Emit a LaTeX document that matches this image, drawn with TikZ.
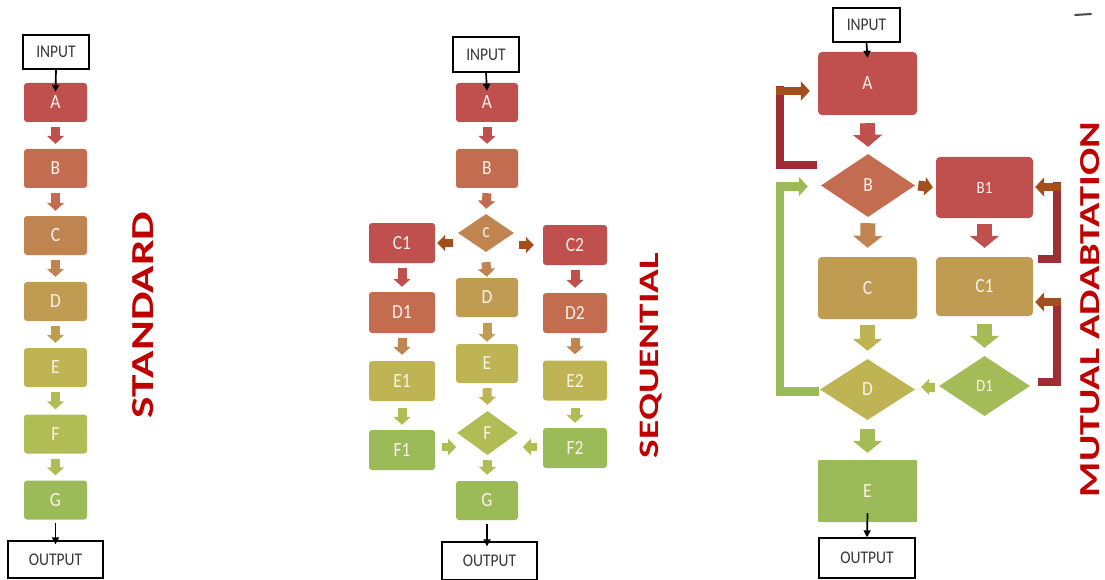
\documentclass[tikz,border=0pt]{standalone}
\usepackage{fontspec}
\setmainfont{Carlito}
\usepackage{graphicx}
\usetikzlibrary{shapes.geometric,arrows.meta,calc}
\definecolor{c0}{RGB}{192,80,77}
\definecolor{c1}{RGB}{196,108,79}
\definecolor{c2}{RGB}{192,132,80}
\definecolor{c3}{RGB}{191,156,82}
\definecolor{c4}{RGB}{190,180,83}
\definecolor{c5}{RGB}{176,189,84}
\definecolor{c6}{RGB}{155,187,89}
\definecolor{titlered}{RGB}{192,0,0}
\definecolor{brk}{RGB}{158,45,52}
\definecolor{brn}{RGB}{163,78,28}
\definecolor{lbl}{RGB}{252,242,235}
\definecolor{iotext}{RGB}{55,55,55}
\newcommand\blbl[1]{\scalebox{1}[1.15]{#1}}
\tikzset{
  box/.style={rectangle, rounded corners=3pt, inner sep=0pt, text=lbl, font=\fontsize{17.5}{20}\selectfont},
  mbox/.style={box, rounded corners=4pt},
  dia/.style={diamond, inner sep=0pt, text=lbl, font=\fontsize{17.5}{20}\selectfont},
  io/.style={draw=black, line width=1.3pt, fill=white, inner sep=0pt, text=iotext, font=\fontsize{15.5}{18}\selectfont},
  sarr/.style={line width=9pt, -{Triangle[width=17pt,length=8pt]}},
  harr/.style={line width=8pt, -{Triangle[width=16pt,length=8pt]}},
  marr/.style={line width=15pt, -{Triangle[width=29pt,length=12pt]}},
  karr/.style={line width=1.7pt, black, -{Triangle[width=7pt,length=7pt]}},
  brkline/.style={line width=8.5pt, brk},
  brkarr/.style={line width=8.5pt, -{Triangle[width=19pt,length=9pt]}},
  title/.style={rotate=90, text=titlered, font=\bfseries, inner sep=0pt, text depth=0pt},
}
\begin{document}
\begin{tikzpicture}[x=1pt,y=-1pt]
\useasboundingbox (0,0) rectangle (1105,580);
\fill[white] (0,0) rectangle (1105,580);

% ---------------- STANDARD ----------------
\node[io, minimum width=66pt, minimum height=34pt] (sIn) at (56,52) {\blbl{INPUT}};
\node[box, fill=c0, minimum width=63pt, minimum height=39pt] (sA) at (55.5,102.5) {\blbl{A}};
\node[box, fill=c1, minimum width=63pt, minimum height=39pt] (sB) at (55.5,168.5) {\blbl{B}};
\node[box, fill=c2, minimum width=63pt, minimum height=39pt] (sC) at (55.5,235.5) {\blbl{C}};
\node[box, fill=c3, minimum width=63pt, minimum height=39pt] (sD) at (55.5,301.5) {\blbl{D}};
\node[box, fill=c4, minimum width=63pt, minimum height=39pt] (sE) at (55.5,367.5) {\blbl{E}};
\node[box, fill=c5, minimum width=63pt, minimum height=39pt] (sF) at (55.5,434) {\blbl{F}};
\node[box, fill=c6, minimum width=63pt, minimum height=39pt] (sG) at (55.5,500) {\blbl{G}};
\node[io, minimum width=95pt, minimum height=37pt] (sOut) at (55.5,559.5) {\blbl{OUTPUT}};

\draw[sarr, c0] ([yshift=-5pt]sA.south) -- ([yshift=5pt]sB.north);
\draw[sarr, c1] ([yshift=-5pt]sB.south) -- ([yshift=5pt]sC.north);
\draw[sarr, c2] ([yshift=-5pt]sC.south) -- ([yshift=5pt]sD.north);
\draw[sarr, c3] ([yshift=-5pt]sD.south) -- ([yshift=5pt]sE.north);
\draw[sarr, c5] ([yshift=-5pt]sE.south) -- ([yshift=5pt]sF.north);
\draw[sarr, c5] ([yshift=-5pt]sF.south) -- ([yshift=5pt]sG.north);
\draw[karr] (sIn.south) -- ([yshift=-9pt]sA.north);
\draw[karr] ([yshift=-3pt]sG.south) -- ([yshift=-4pt]sOut.north);

\node[title] (tS) at (142.5,315) {\resizebox{206pt}{21pt}{STANDARD}};

% ---------------- SEQUENTIAL ----------------
\node[io, minimum width=66pt, minimum height=35pt] (qIn) at (486,54.5) {\blbl{INPUT}};
\node[box, fill=c0, minimum width=62pt, minimum height=39pt] (qA) at (487,102.5) {\blbl{A}};
\node[box, fill=c1, minimum width=62pt, minimum height=39pt] (qB) at (487,168.5) {\blbl{B}};
\node[dia, fill=c2, minimum width=56pt, minimum height=38pt] (qc) at (486,233) {\blbl{c}};
\node[box, fill=c3, minimum width=62pt, minimum height=39pt] (qD) at (487,297.5) {\blbl{D}};
\node[box, fill=c4, minimum width=62pt, minimum height=39pt] (qE) at (487,363.5) {\blbl{E}};
\node[dia, fill=c5, minimum width=61pt, minimum height=44pt] (qF) at (487.5,433) {\blbl{F}};
\node[box, fill=c6, minimum width=62pt, minimum height=39pt] (qG) at (487,500.5) {\blbl{G}};
\node[io, minimum width=95pt, minimum height=38pt] (qOut) at (489.5,561) {\blbl{OUTPUT}};

\node[box, fill=c0, minimum width=66pt, minimum height=40pt] (qC1) at (402,243) {\blbl{C1}};
\node[box, fill=c1, minimum width=66pt, minimum height=41pt] (qD1) at (402,312.5) {\blbl{D1}};
\node[box, fill=c4, minimum width=66pt, minimum height=40pt] (qE1) at (402,381) {\blbl{E1}};
\node[box, fill=c6, minimum width=66pt, minimum height=40pt] (qF1) at (402,450) {\blbl{F1}};
\node[box, fill=c0, minimum width=64pt, minimum height=40pt] (qC2) at (575,245) {\blbl{C2}};
\node[box, fill=c1, minimum width=64pt, minimum height=40pt] (qD2) at (575,313) {\blbl{D2}};
\node[box, fill=c4, minimum width=64pt, minimum height=40pt] (qE2) at (575,380.5) {\blbl{E2}};
\node[box, fill=c6, minimum width=64pt, minimum height=40pt] (qF2) at (575,448) {\blbl{F2}};

\draw[sarr, c0] ([yshift=-5pt]qA.south) -- ([yshift=5pt]qB.north);
\draw[sarr, c1] ([yshift=-5pt]qB.south) -- ([yshift=5pt]qc.north);
\draw[sarr, c2] ([yshift=-10pt]qc.south) -- ([yshift=1pt]qD.north);
\draw[sarr, c3] ([yshift=-6pt]qD.south) -- ([yshift=2pt]qE.north);
\draw[sarr, c4] ([yshift=-5pt]qE.south) -- ([yshift=6pt]qF.north);
\draw[sarr, c5] ([yshift=-5pt]qF.south) -- ([yshift=6pt]qG.north);
\draw[sarr, c0] ([yshift=-5pt]qC1.south) -- ([yshift=5pt]qD1.north);
\draw[sarr, c2] ([yshift=-5pt]qD1.south) -- ([yshift=6pt]qE1.north);
\draw[sarr, c5] ([yshift=-7pt]qE1.south) -- ([yshift=5pt]qF1.north);
\draw[sarr, c0] ([yshift=-5pt]qC2.south) -- ([yshift=5pt]qD2.north);
\draw[sarr, c2] ([yshift=-5pt]qD2.south) -- ([yshift=6pt]qE2.north);
\draw[sarr, c5] ([yshift=-7pt]qE2.south) -- ([yshift=5pt]qF2.north);
\draw[harr, brn] ($(qc.west |- qC1.east)+(-5,0)$) -- ($(qC1.east)+(2,0)$);
\draw[harr, brn] ($(qc.east |- qC2.west)+(5,0)$) -- ($(qC2.west)+(-9,0)$);
\draw[harr, c5] ($(qF1.east)+(7,-3)$) -- ($(qF1.east)+(21,-3)$);
\draw[harr, c5] ($(qF2.west)+(-6,-1)$) -- ($(qF2.west)+(-20,-1)$);
\draw[karr] (qIn.south) -- ([yshift=-8pt]qA.north);
\draw[karr] ([yshift=-4pt]qG.south) -- ($(qG.south |- qOut.north)+(0,5)$);

\node[title] (tQ) at (649,355.5) {\resizebox{205pt}{18.5pt}{SEQUENTIAL}};

% ---------------- MUTUAL ADAPTATION ----------------
\node[io, minimum width=67pt, minimum height=34pt] (mIn) at (866.5,25) {\blbl{INPUT}};
\node[mbox, fill=c0, minimum width=99pt, minimum height=63pt] (mA) at (867.5,83.5) {\blbl{A}};
\node[dia, fill=c1, minimum width=94pt, minimum height=63pt] (mB) at (868,185.5) {\blbl{B}};
\node[mbox, fill=c0, minimum width=97pt, minimum height=61pt, font=\fontsize{15}{17}\selectfont] (mB1) at (984.5,187.5) {\blbl{B1}};
\node[mbox, fill=c3, minimum width=99pt, minimum height=62pt] (mC) at (867.5,288) {\blbl{C}};
\node[mbox, fill=c3, minimum width=97pt, minimum height=59pt] (mC1) at (984.5,286.5) {\blbl{C1}};
\node[dia, fill=c4, minimum width=95pt, minimum height=61pt] (mD) at (867.5,389.5) {\blbl{D}};
\node[dia, fill=c6!60!c5, minimum width=91pt, minimum height=60pt, font=\fontsize{15}{17}\selectfont] (mD1) at (984.5,386) {\blbl{D1}};
\node[mbox, rounded corners=1pt, fill=c6, minimum width=99pt, minimum height=62pt] (mE) at (867.5,491) {\blbl{E}};
\node[io, minimum width=96pt, minimum height=40pt] (mOut) at (867,558) {\blbl{OUTPUT}};

\draw[marr, c0] ([yshift=-8pt]mA.south) -- ([yshift=7pt]mB.north);
\draw[marr, c2] ([yshift=-6pt]mB.south) -- ([yshift=9pt]mC.north);
\draw[marr, c0] ([yshift=-6pt]mB1.south) -- ([yshift=9pt]mC1.north);
\draw[marr, c4] ([yshift=-6pt]mC.south) -- ([yshift=8pt]mD.north);
\draw[marr, c6!50!c5] ([yshift=-8pt]mC1.south) -- ([yshift=8pt]mD1.north);
\draw[marr, c6!50!c5] ([yshift=-9pt]mD.south) -- ([yshift=7pt]mE.north);
\draw[line width=10pt, brn, -{Triangle[width=18pt,length=8pt]}] ([xshift=3pt]mB.east) -- ([xshift=-3pt]mB1.west);
\draw[line width=9pt, c5, -{Triangle[width=16pt,length=8pt]}] ($(mD1.west)+(-4,1)$) -- ($(mD.east |- mD1.west)+(6,1)$);

% feedback brackets
\draw[brkline] ($(mB.west)+(-4,-20.5)$) -| ($(mA.west)+(-38,2.5)$);
\draw[brkarr, brn] ($(mA.west)+(-42,7.5)$) -- ($(mA.west)+(-8,7.5)$);
\draw[brkarr, c6] ($(mD.west)+(-1,2)$) -| ($(mB.west)+(-41,1)$) -- ($(mB.west)+(-13,1)$);
\draw[brkline] ($(mC1.north east)+(5,2)$) -| ($(mB1.east)+(24,-5)$);
\draw[brkarr, brn] ($(mB1.east)+(28,-0.5)$) -- ($(mB1.east)+(2,-0.5)$);
\draw[brkline] ($(mD1.east)+(8,-4)$) -| ($(mC1.east)+(24,11.5)$);
\draw[brkarr, brn] ($(mC1.east)+(28,15.5)$) -- ($(mC1.east)+(2,15.5)$);

\draw[karr] (mIn.south) -- ([yshift=-6pt]mA.north);
\draw[karr] ([yshift=9pt]mE.south) -- (mOut.north);

\node[title] (tM) at (1090,309.5) {\resizebox{375pt}{19pt}{MUTUAL ADABTATION}};

\draw[line width=2pt, black!70, line cap=round] (1075,15) -- (1091,14);
\end{tikzpicture}
\end{document}
